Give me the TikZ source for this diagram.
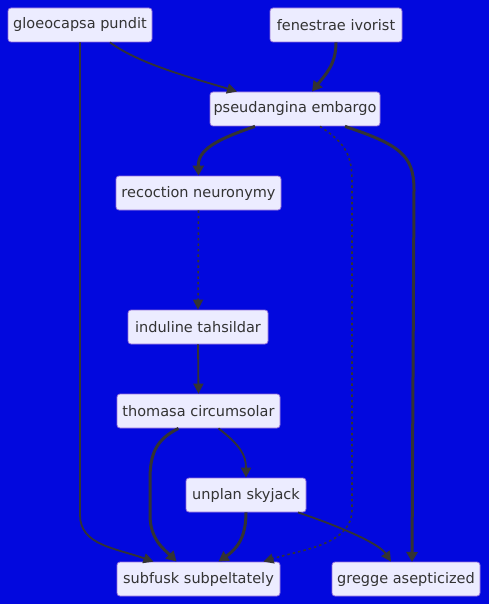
\documentclass[tikz,border=0pt]{standalone}
\usepackage{fontspec}
\setmainfont{DejaVu Sans}
\usetikzlibrary{arrows.meta}
\definecolor{bg}{RGB}{2,8,222}
\definecolor{nodefill}{RGB}{236,236,255}
\definecolor{nodeline}{RGB}{147,112,219}
\definecolor{edge}{RGB}{51,51,51}
\definecolor{txt}{RGB}{51,51,51}
\tikzset{
  box/.style={draw=nodeline, fill=nodefill, rounded corners=3pt, line width=0.8pt,
    minimum height=34pt, inner xsep=3pt, text=txt, font=\fontsize{14.5}{16}\selectfont, anchor=center},
  link/.style={draw=edge, line width=1.8pt, -{Triangle[length=10pt,width=10pt]}},
  thick link/.style={draw=edge, line width=3pt, -{Triangle[length=10pt,width=11pt]}},
  dot link/.style={draw=edge, line width=1.6pt, dash pattern=on 2.5pt off 3pt, -{Triangle[length=10pt,width=10pt]}},
}
\begin{document}
\begin{tikzpicture}[x=1pt,y=-1pt]
\fill[bg] (0,0) rectangle (489,604);
\useasboundingbox (0,0) rectangle (489,604);
\node[box, minimum width=144pt] (g) at (80,25) {gloeocapsa pundit};
\node[box, minimum width=132pt] (f) at (336,25) {fenestrae ivorist};
\node[box, minimum width=170pt] (p) at (295,109) {pseudangina embargo};
\node[box, minimum width=165pt] (r) at (198.5,193) {recoction neuronymy};
\node[box, minimum width=140pt] (i) at (198,327) {induline tahsildar};
\node[box, minimum width=163pt] (t) at (198.5,411) {thomasa circumsolar};
\node[box, minimum width=120pt] (u) at (246,495) {unplan skyjack};
\node[box, minimum width=163pt] (s) at (198.5,579) {subfusk subpeltately};
\node[box, minimum width=148pt] (a) at (406,579) {gregge asepticized};

\coordinate (g1) at ([xshift=30pt]g.south);
\draw[link] (g1) .. controls (140,65) and (200,80) .. ([xshift=-58pt]p.north);
\draw[link] (g.south) -- (80,515) .. controls (80,545) and (115,548) .. ([xshift=-45pt]s.north);
\draw[thick link] (f.south) .. controls (336,65) and (325,75) .. ([xshift=17pt]p.north);
\draw[thick link] ([xshift=-40pt]p.south) .. controls (215,140) and (198,150) .. (r.north);
\draw[dot link] ([xshift=25pt]p.south) .. controls (340,140) and (352,150) .. (352,180) -- (352,510) .. controls (352,545) and (300,550) .. ([xshift=65pt]s.north);
\draw[thick link] ([xshift=50pt]p.south) .. controls (400,145) and (414,155) .. (414,190) -- (412,562);
\draw[dot link] (r.south) -- (i.north);
\draw[link] (i.south) -- (t.north);
\draw[link] ([xshift=20pt]t.south) .. controls (240,445) and (246,455) .. (u.north);
\draw[thick link] ([xshift=-20pt]t.south) .. controls (155,440) and (150,455) .. (150,480) -- (150,515) .. controls (150,540) and (165,550) .. ([xshift=-22pt]s.north);
\draw[thick link] (u.south) .. controls (246,540) and (235,550) .. ([xshift=20pt]s.north);
\draw[link] ([xshift=52pt]u.south) .. controls (350,530) and (380,545) .. ([xshift=-15pt]a.north);
\end{tikzpicture}
\end{document}
